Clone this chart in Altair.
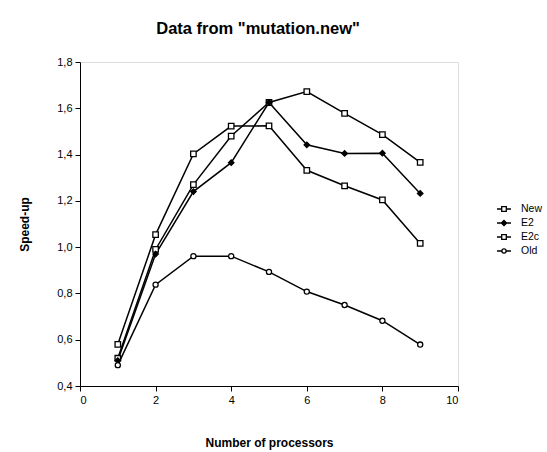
import altair as alt
import pandas as pd

processors = [1, 2, 3, 4, 5, 6, 7, 8, 9]
series_names = ["New", "E2", "E2c", "Old"]
new_vals = [0.52, 0.99, 1.27, 1.48, 1.625, 1.672, 1.578, 1.486, 1.366]
e2_vals = [0.51, 0.97, 1.24, 1.365, 1.625, 1.442, 1.405, 1.406, 1.232]
e2c_vals = [0.58, 1.054, 1.403, 1.523, 1.524, 1.332, 1.265, 1.204, 1.016]
old_vals = [0.49, 0.838, 0.961, 0.961, 0.893, 0.808, 0.750, 0.682, 0.579]

rows = []
for name, vals in zip(series_names, [new_vals, e2_vals, e2c_vals, old_vals]):
    for p, v in zip(processors, vals):
        rows.append({"proc": p, "speedup": v, "series": name})
df = pd.DataFrame(rows)

FONT = "Liberation Sans"

x_enc = alt.X(
    "proc:Q",
    scale=alt.Scale(domain=[0, 10], nice=False),
    axis=alt.Axis(
        title="Number of processors",
        values=list(range(0, 11)),
        labelExpr="datum.value % 2 == 0 ? format(datum.value, 'd') : ''",
        grid=False,
        domainColor="black",
        tickColor="black",
        tickSize={"condition": {"test": "datum.value % 2 == 0", "value": 5}, "value": 3},
        labelFont=FONT,
        labelFontSize=11,
        labelColor="black",
        titleFont=FONT,
        titleFontSize=12,
        titleFontWeight="bold",
        titleColor="black",
        titleY=51,
        labelPadding=3,
    ),
)
y_enc = alt.Y(
    "speedup:Q",
    scale=alt.Scale(domain=[0.4, 1.8], nice=False),
    axis=alt.Axis(
        title="Speed-up",
        values=[0.4, 0.5, 0.6, 0.7, 0.8, 0.9, 1.0, 1.1, 1.2, 1.3, 1.4, 1.5, 1.6, 1.7, 1.8],
        labelExpr="round(datum.value*10) % 2 == 0 ? replace(format(datum.value, '.1f'), '.', ',') : ''",
        grid=False,
        domainColor="black",
        tickColor="black",
        tickSize={"condition": {"test": "round(datum.value*10) % 2 == 0", "value": 5}, "value": 3},
        labelFont=FONT,
        labelFontSize=11,
        labelColor="black",
        titleFont=FONT,
        titleFontSize=12,
        titleFontWeight="bold",
        titleColor="black",
        titleX=-49,
        labelPadding=3,
    ),
)

base = alt.Chart(df)

lines = base.mark_line(color="black", strokeWidth=1.5).encode(
    x=x_enc, y=y_enc, detail="series:N", order="proc:Q"
)

shape_for = {"New": "square", "E2": "diamond", "E2c": "square", "Old": "circle"}
point_layers = []
for name in series_names:
    filled = name == "E2"
    point_layers.append(
        base.transform_filter(alt.datum.series == name)
        .mark_point(
            shape=shape_for[name],
            size=30 if name != "Old" else 26,
            filled=filled,
            fill="black" if filled else "white",
            fillOpacity=1,
            stroke="black",
            strokeWidth=1.3,
            opacity=1,
        )
        .encode(x="proc:Q", y="speedup:Q")
    )

sq = "M-1,0H-0.33M0.33,0H1M-0.33,-0.33H0.33V0.33H-0.33Z"
dm = "M-1,0H-0.38M0.38,0H1M0,-0.38L0.38,0L0,0.38L-0.38,0Z"
ci = "M-1,0H-0.3M0.3,0H1M0.3,0A0.3,0.3,0,1,1,-0.3,0A0.3,0.3,0,1,1,0.3,0Z"

legend_props = dict(
    title=None,
    orient="none",
    legendX=416,
    legendY=139,
    symbolSize=196,
    symbolStrokeColor="black",
    symbolStrokeWidth=1.3,
    labelFont=FONT,
    labelFontSize=10.5,
    labelColor="black",
    rowPadding=-1,
    labelOffset=9,
)

legend_layer = (
    base.transform_filter("datum.proc > 100")
    .mark_point(strokeWidth=1.3, opacity=1, fillOpacity=1, strokeOpacity=1)
    .encode(
        x="proc:Q",
        y="speedup:Q",
        shape=alt.Shape(
            "series:N",
            scale=alt.Scale(domain=series_names, range=[sq, dm, sq, ci]),
            legend=alt.Legend(**legend_props),
        ),
        fill=alt.Fill(
            "series:N",
            scale=alt.Scale(domain=series_names, range=["white", "black", "white", "white"]),
            legend=alt.Legend(**legend_props),
        ),
        stroke=alt.Stroke(
            "series:N",
            scale=alt.Scale(domain=series_names, range=["black", "black", "black", "black"]),
            legend=alt.Legend(**legend_props),
        ),
    )
)

chart = (
    alt.layer(lines, *point_layers, legend_layer)
    .properties(
        width=378,
        height=324,
        autosize=alt.AutoSizeParams(type="none"),
        padding={"left": 80, "top": 62, "right": 89, "bottom": 66},
        title=alt.TitleParams(
            'Data from "mutation.new"',
            font=FONT,
            fontSize=16.5,
            fontWeight="bold",
            color="black",
            anchor="middle",
            dx=-11,
            offset=19,
        ),
    )
    .configure_view(stroke="black", strokeWidth=1)
    .configure(background="white")
)

chart.save("out.html", embed_options={"renderer": "svg", "actions": False})
